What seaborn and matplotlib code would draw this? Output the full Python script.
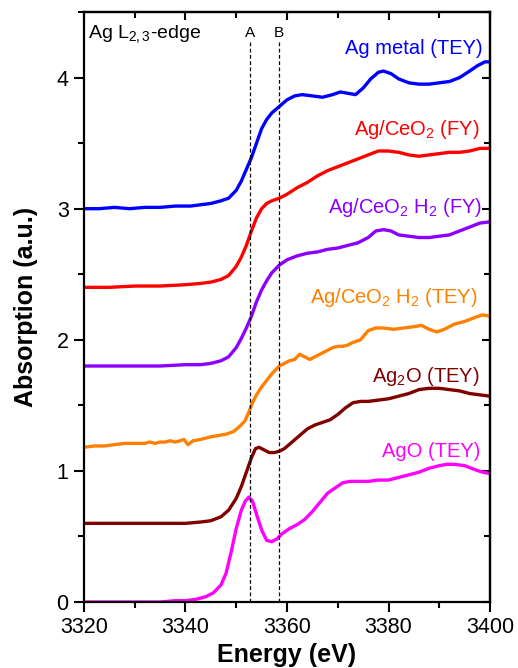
import numpy as np
import pandas as pd
import matplotlib
matplotlib.use("Agg")
import matplotlib.pyplot as plt
from matplotlib.ticker import MultipleLocator, NullFormatter
import seaborn as sns

# ---------------- data ----------------
metal_x = [3320, 3323, 3326, 3329, 3332, 3335, 3338, 3341, 3343, 3345, 3347, 3348.5, 3350, 3351,
           3352, 3353, 3354, 3355, 3356, 3357, 3358.5, 3360, 3361.5, 3363, 3365, 3367, 3369, 3370.5,
           3372, 3373.5, 3375, 3376.5, 3378, 3379, 3380.5, 3382, 3384, 3386, 3388, 3390, 3392, 3394,
           3396, 3397.5, 3399, 3400]
metal_y = [3.00, 3.00, 3.01, 3.00, 3.01, 3.01, 3.02, 3.02, 3.03, 3.04, 3.06, 3.08, 3.14, 3.21,
           3.30, 3.39, 3.50, 3.61, 3.68, 3.73, 3.78, 3.83, 3.86, 3.87, 3.86, 3.85, 3.87, 3.89,
           3.88, 3.87, 3.92, 3.99, 4.04, 4.05, 4.03, 3.99, 3.96, 3.95, 3.95, 3.96, 3.97, 4.00,
           4.05, 4.09, 4.12, 4.12]

cefy_x = [3320, 3325, 3330, 3335, 3340, 3343, 3345, 3347, 3348.5, 3350, 3351, 3352, 3353, 3354,
          3355, 3356, 3357, 3358.5, 3360, 3362, 3364, 3366, 3368, 3370, 3372, 3374, 3376, 3378,
          3380, 3382, 3384, 3386, 3388, 3390, 3392, 3394, 3396, 3398, 3400]
cefy_y = [2.40, 2.40, 2.41, 2.41, 2.42, 2.43, 2.44, 2.46, 2.49, 2.56, 2.63, 2.72, 2.83, 2.93,
          3.00, 3.04, 3.06, 3.08, 3.11, 3.16, 3.20, 3.25, 3.29, 3.32, 3.35, 3.38, 3.41, 3.44,
          3.44, 3.43, 3.41, 3.40, 3.41, 3.42, 3.43, 3.43, 3.44, 3.46, 3.46]

h2fy_x = [3320, 3325, 3330, 3335, 3340, 3343, 3345, 3347, 3348.5, 3350, 3351, 3352, 3353, 3354,
          3355, 3356, 3357, 3358.5, 3360, 3362, 3364, 3366, 3368, 3370, 3372, 3374, 3376, 3377.5,
          3379, 3380.5, 3382, 3384, 3386, 3388, 3390, 3392, 3394, 3396, 3398, 3400]
h2fy_y = [1.80, 1.80, 1.80, 1.80, 1.81, 1.81, 1.82, 1.84, 1.87, 1.94, 2.01, 2.09, 2.18, 2.29,
          2.38, 2.45, 2.51, 2.57, 2.61, 2.64, 2.66, 2.67, 2.69, 2.70, 2.72, 2.74, 2.78, 2.83,
          2.84, 2.83, 2.80, 2.79, 2.78, 2.78, 2.79, 2.80, 2.83, 2.86, 2.89, 2.90]

h2tey_x = [3320, 3322, 3324, 3326, 3328, 3330, 3332, 3333, 3334, 3335, 3336, 3337, 3338, 3339,
           3339.7, 3340.5, 3341.5, 3343, 3345, 3346.5, 3348, 3349.5, 3350.7, 3351.7, 3352.5,
           3353.2, 3354, 3355, 3356, 3357, 3358.5, 3359.5, 3360.5, 3361.5, 3362.5, 3363.5, 3364.5,
           3366, 3367.5, 3369, 3370, 3371, 3372, 3373, 3374.5, 3376, 3377.5, 3379, 3381, 3383,
           3385, 3386.5, 3388, 3389.5, 3391, 3393, 3395, 3397, 3398.5, 3400]
h2tey_y = [1.18, 1.19, 1.19, 1.20, 1.21, 1.21, 1.21, 1.22, 1.21, 1.22, 1.22, 1.23, 1.22, 1.23,
           1.24, 1.20, 1.23, 1.24, 1.26, 1.27, 1.28, 1.30, 1.34, 1.38, 1.45,
           1.52, 1.58, 1.64, 1.69, 1.74, 1.80, 1.82, 1.84, 1.85, 1.89, 1.87, 1.85,
           1.88, 1.91, 1.94, 1.95, 1.95, 1.96, 1.98, 2.00, 2.07, 2.09, 2.09, 2.08, 2.09,
           2.10, 2.11, 2.08, 2.06, 2.08, 2.12, 2.14, 2.17, 2.19, 2.18]

ag2o_x = [3320, 3325, 3330, 3335, 3340, 3343, 3345, 3347, 3348.5, 3350, 3351, 3352, 3353, 3353.8,
          3354.5, 3355.5, 3356.5, 3357.5, 3358.5, 3359.5, 3361, 3362.5, 3364, 3365.5, 3367, 3368.5,
          3370, 3371.5, 3373, 3374.5, 3376, 3378, 3380, 3382, 3384, 3386, 3388, 3390, 3392, 3394,
          3396, 3398, 3400]
ag2o_y = [0.60, 0.60, 0.60, 0.60, 0.60, 0.61, 0.62, 0.65, 0.70, 0.79, 0.88, 0.99, 1.10, 1.17,
          1.18, 1.16, 1.14, 1.14, 1.15, 1.17, 1.22, 1.27, 1.32, 1.35, 1.37, 1.39,
          1.43, 1.48, 1.52, 1.53, 1.53, 1.54, 1.55, 1.57, 1.59, 1.62, 1.63, 1.63, 1.62, 1.61,
          1.59, 1.58, 1.57]

ago_x = [3320, 3325, 3330, 3335, 3338, 3340, 3342, 3344, 3345.5, 3347, 3348, 3349, 3350, 3351,
         3351.8, 3352.5, 3353.2, 3354, 3355, 3356, 3357, 3358, 3359, 3360.5, 3362, 3363.5, 3365,
         3366.5, 3368, 3369.5, 3371, 3372.5, 3374, 3376, 3378, 3380, 3382, 3384, 3386, 3388,
         3390, 3391.5, 3393, 3395, 3397, 3398.5, 3400]
ago_y = [0.00, 0.00, 0.00, 0.00, 0.01, 0.01, 0.02, 0.04, 0.07, 0.13, 0.22, 0.38, 0.56, 0.70,
         0.77, 0.80, 0.77, 0.67, 0.55, 0.47, 0.46, 0.48, 0.52, 0.56, 0.59, 0.63, 0.69,
         0.76, 0.83, 0.87, 0.91, 0.92, 0.92, 0.92, 0.93, 0.93, 0.95, 0.97, 0.99, 1.02,
         1.04, 1.05, 1.05, 1.04, 1.01, 0.99, 0.98]

series_names = ["Ag metal (TEY)", "Ag/CeO$_2$ (FY)", "Ag/CeO$_2$ H$_2$ (FY)",
                "Ag/CeO$_2$ H$_2$ (TEY)", "Ag$_2$O (TEY)", "AgO (TEY)"]
series_colors = ["#0000FF", "#FF0000", "#8B00FF", "#FF8000", "#800000", "#FF00FF"]
series_x = [metal_x, cefy_x, h2fy_x, h2tey_x, ag2o_x, ago_x]
series_y = [metal_y, cefy_y, h2fy_y, h2tey_y, ag2o_y, ago_y]
# label anchors (right edge x, baseline y)
label_x = [3398.6, 3398.0, 3398.4, 3397.6, 3398.0, 3398.0]
label_y = [4.18, 3.565, 2.97, 2.28, 1.68, 1.107]

ref_lines = [3352.7, 3358.4]
ref_labels = ["A", "B"]

# ---------------- style ----------------
sns.set_style("ticks", {"axes.edgecolor": "black", "xtick.color": "black",
                        "ytick.color": "black", "text.color": "black",
                        "axes.labelcolor": "black"})
plt.rcParams["font.family"] = ["Liberation Sans", "DejaVu Sans"]
plt.rcParams["mathtext.fontset"] = "custom"
plt.rcParams["mathtext.rm"] = "Liberation Sans"
plt.rcParams["mathtext.it"] = "Liberation Sans:italic"
plt.rcParams["mathtext.bf"] = "Liberation Sans:bold"

fig = plt.figure(figsize=(5.18, 6.68), dpi=100)
ax = fig.add_axes([0.162, 0.0988, 0.784, 0.8832])

for name, c, xs, ys in zip(series_names, series_colors, series_x, series_y):
    df = pd.DataFrame({"Energy": xs, "Abs": ys})
    sns.lineplot(data=df, x="Energy", y="Abs", color=c, lw=2.4, ax=ax,
                 estimator=None, sort=True, legend=False)

for name, c, lx, ly in zip(series_names, series_colors, label_x, label_y):
    ax.text(lx, ly, name, color=c, fontsize=14.5, ha="right", va="baseline")

for xv, lab in zip(ref_lines, ref_labels):
    ax.plot([xv, xv], [0, 4.27], ls=(0, (3, 2)), color="black", lw=0.9)
    ax.text(xv, 4.31, lab, fontsize=11, ha="center", va="baseline", color="black")

ax.text(3320.8, 4.305, "Ag L$_{2,3}$-edge", fontsize=14, ha="left", va="baseline", color="black")

ax.set_xlim(3320, 3400)
ax.set_ylim(0, 4.5)
ax.xaxis.set_major_locator(MultipleLocator(20))
ax.xaxis.set_minor_locator(MultipleLocator(10))
ax.yaxis.set_major_locator(MultipleLocator(1))
ax.yaxis.set_minor_locator(MultipleLocator(0.5))
ax.tick_params(which="major", direction="out", length=7, width=1.5, labelsize=15.5, pad=4,
               colors="black")
ax.tick_params(which="minor", direction="out", length=4, width=1.5, colors="black")

for sp in ax.spines.values():
    sp.set_linewidth(1.6)
    sp.set_color("black")
    sp.set_visible(True)

top = ax.secondary_xaxis("top")
top.xaxis.set_major_locator(MultipleLocator(20))
top.xaxis.set_minor_locator(MultipleLocator(10))
top.xaxis.set_major_formatter(NullFormatter())
top.tick_params(which="major", direction="in", length=6, width=1.5, colors="black")
top.tick_params(which="minor", direction="in", length=4, width=1.5, colors="black")
top.spines["top"].set_linewidth(1.6)
top.spines["top"].set_color("black")

right = ax.secondary_yaxis("right")
right.yaxis.set_major_locator(MultipleLocator(1))
right.yaxis.set_minor_locator(MultipleLocator(0.5))
right.yaxis.set_major_formatter(NullFormatter())
right.tick_params(which="major", direction="in", length=6, width=1.5, colors="black")
right.tick_params(which="minor", direction="in", length=4, width=1.5, colors="black")
right.spines["right"].set_linewidth(1.6)
right.spines["right"].set_color("black")

ax.set_xlabel("Energy (eV)", fontsize=18, fontweight="bold", color="black")
ax.set_ylabel("Absorption (a.u.)", fontsize=18, fontweight="bold", color="black")
ax.xaxis.set_label_coords(0.5, -0.069)
ax.yaxis.set_label_coords(-0.112, 0.5)

fig.savefig("out.png", dpi=100)
